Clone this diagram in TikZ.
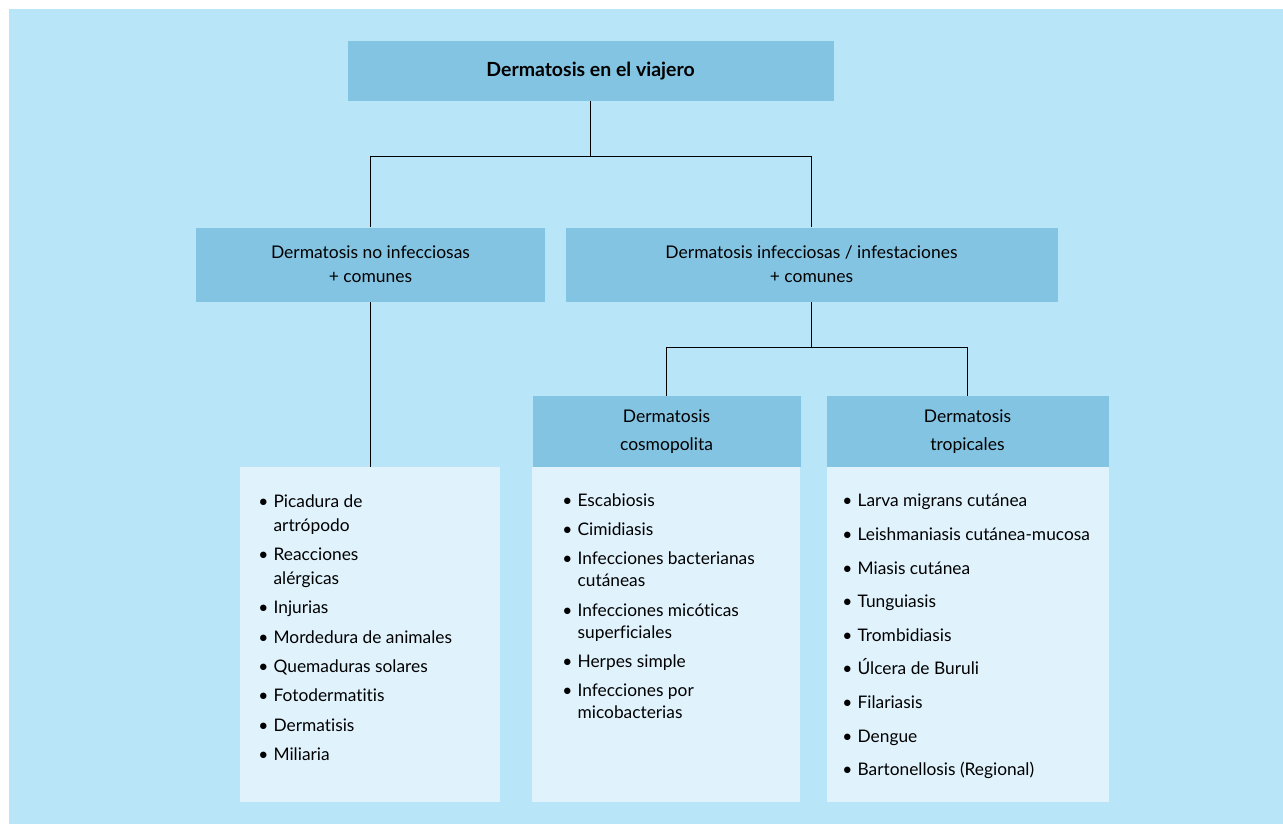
\documentclass[tikz,border=0pt]{standalone}
\usepackage{fontspec}
\setmainfont{Lato}[Ligatures=NoCommon]
\usepackage{xcolor}
\usepackage{tikz}

\definecolor{bgblue}{RGB}{185,229,249}
\definecolor{hdrblue}{RGB}{131,196,226}
\definecolor{lstblue}{RGB}{224,242,252}

\newcommand{\itm}[1]{\makebox[11.5pt][l]{•}#1}
\newcommand{\cnt}[1]{\hspace*{11.5pt}#1}

\begin{document}
\begin{tikzpicture}[x=0.75pt,y=-0.75pt,
		hdr/.style={fill=hdrblue, inner sep=0pt, align=center},
		lst/.style={fill=lstblue, inner sep=0pt},
		items/.style={inner sep=0pt, align=left, anchor=north west},
		link/.style={draw=black, line width=0.75pt}]
		\useasboundingbox (0,0) rectangle (1283,824);
		\fill[bgblue] (9,9) rectangle (1283,824);
		% header boxes
		\node[hdr, minimum width=364.5pt, minimum height=45pt, font=\fontsize{14.6}{18}\selectfont\bfseries] (title) at (590.5,71) {Dermatosis en el viajero};
		\node[hdr, minimum width=261.75pt, minimum height=55.5pt, font=\fontsize{13.1}{18}\selectfont] (ninf) at (370.5,264.5) {Dermatosis no infecciosas\\+ comunes};
		\node[hdr, minimum width=369pt, minimum height=55.5pt, font=\fontsize{13.1}{18}\selectfont] (inf) at (811.5,264.5) {Dermatosis infecciosas / infestaciones\\+ comunes};
		\node[hdr, minimum width=201pt, minimum height=53.25pt, font=\fontsize{13.1}{21}\selectfont] (cosmo) at (666.5,431.5) {Dermatosis\\cosmopolita};
		\node[hdr, minimum width=211.5pt, minimum height=53.25pt, font=\fontsize{13.1}{21}\selectfont] (trop) at (967.5,431.5) {Dermatosis\\tropicales};
		% list boxes
		\node[lst, minimum width=195pt, minimum height=251.25pt] (lstninf) at (370,634.5) {};
		\node[lst, minimum width=201pt, minimum height=251.25pt] (lstcosmo) at (666,634.5) {};
		\node[lst, minimum width=211.5pt, minimum height=251.25pt] (lsttrop) at (968,634.5) {};
		% connectors
		\draw[link] (title.south) -- ++(0,55.5) coordinate (split1);
		\draw[link] (ninf.north) |- (split1) -| (inf.north);
		\draw[link] (inf.south) -- ++(0,45.5) coordinate (split2);
		\draw[link] (cosmo.north) |- (split2) -| (trop.north);
		\draw[link] (ninf.south) -- (ninf.south |- lstninf.north);
		% lists
		\node[items, font=\fontsize{13}{18}\selectfont] (txtninf) at (258,494) {\itm{Picadura de}\\\cnt{artrópodo}\\[4pt]
			\itm{Reacciones}\\\cnt{alérgicas}\\[4pt]
			\itm{Injurias}\\[4pt]
			\itm{Mordedura de animales}\\[4pt]
			\itm{Quemaduras solares}\\[4pt]
			\itm{Fotodermatitis}\\[4pt]
			\itm{Dermatisis}\\[4pt]
			\itm{Miliaria}};
		\node[items, font=\fontsize{13}{16.5}\selectfont] (txtcosmo) at (562,493) {\itm{Escabiosis}\\[5.5pt]
			\itm{Cimidiasis}\\[5.5pt]
			\itm{Infecciones bacterianas}\\\cnt{cutáneas}\\[5.5pt]
			\itm{Infecciones micóticas}\\\cnt{superficiales}\\[5.5pt]
			\itm{Herpes simple}\\[5.5pt]
			\itm{Infecciones por}\\\cnt{micobacterias}};
		\node[items, font=\fontsize{13}{25.2}\selectfont] (txttrop) at (842,494) {\itm{Larva migrans cutánea}\\
			\itm{Leishmaniasis cutánea-mucosa}\\
			\itm{Miasis cutánea}\\
			\itm{Tunguiasis}\\
			\itm{Trombidiasis}\\
			\itm{Úlcera de Buruli}\\
			\itm{Filariasis}\\
			\itm{Dengue}\\
			\itm{Bartonellosis (Regional)}};
	\end{tikzpicture}
\end{document}
